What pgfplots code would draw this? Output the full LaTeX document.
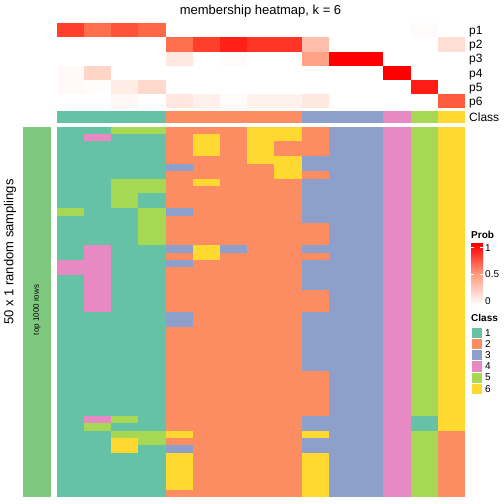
\documentclass[border=0pt]{standalone}
\usepackage{pgfplots}
\pgfplotsset{compat=1.18}
\usepackage{fontspec}
\setmainfont{Liberation Sans}
\definecolor{leftbar}{RGB}{127,201,127}
\definecolor{pmid}{RGB}{255,158,129}
\definecolor{c1}{RGB}{102,194,165}
\definecolor{c2}{RGB}{252,141,98}
\definecolor{c3}{RGB}{141,160,203}
\definecolor{c4}{RGB}{231,138,195}
\definecolor{c5}{RGB}{166,216,84}
\definecolor{c6}{RGB}{255,217,47}
\pgfdeclareplotmark{cellm}{\pgfpathrectangle{\pgfpoint{-13.66pt}{-3.74pt}}{\pgfpoint{27.32pt}{7.48pt}}\pgfusepathqfill}
\pgfdeclareplotmark{cellp}{\pgfpathrectangle{\pgfpoint{-13.66pt}{-7.12pt}}{\pgfpoint{27.32pt}{14.24pt}}\pgfusepathqfill}
\pgfplotsset{
 hm/.style={scale only axis, hide axis, enlargelimits=false, anchor=north west, y dir=reverse, xmin=-0.5, xmax=14.5},
}
\begin{document}
\begin{tikzpicture}
\path[use as bounding box] (0pt,0pt) rectangle (504pt,504pt);
% membership probabilities
\begin{axis}[hm, at={(56.7pt,480.7pt)}, width=408.3pt, height=85pt, ymin=-0.5, ymax=5.5,
 colormap={probmap}{rgb255=(255,255,255) rgb255=(255,207,191) rgb255=(255,158,129) rgb255=(255,104,70) rgb255=(255,0,0)},
 point meta min=0, point meta max=1]
\addplot[scatter, only marks, mark=cellp, scatter/use mapped color={draw=mapped color, fill=mapped color}, point meta=explicit] table[meta=c, row sep=\\]{
x y c\\
0 0 0.85\\1 0 0.72\\2 0 0.8\\3 0 0.75\\4 0 0\\5 0 0\\6 0 0\\7 0 0\\8 0 0\\9 0 0\\10 0 0\\11 0 0\\12 0 0\\13 0 0.02\\14 0 0\\
0 1 0\\1 1 0\\2 1 0\\3 1 0\\4 1 0.72\\5 1 0.85\\6 1 0.92\\7 1 0.87\\8 1 0.87\\9 1 0.33\\10 1 0\\11 1 0\\12 1 0\\13 1 0\\14 1 0.17\\
0 2 0\\1 2 0\\2 2 0\\3 2 0\\4 2 0.12\\5 2 0\\6 2 0.02\\7 2 0\\8 2 0\\9 2 0.48\\10 2 1\\11 2 1\\12 2 0\\13 2 0\\14 2 0\\
0 3 0.03\\1 3 0.22\\2 3 0\\3 3 0\\4 3 0\\5 3 0\\6 3 0\\7 3 0\\8 3 0\\9 3 0\\10 3 0\\11 3 0\\12 3 1\\13 3 0\\14 3 0\\
0 4 0.03\\1 4 0.01\\2 4 0.1\\3 4 0.2\\4 4 0\\5 4 0\\6 4 0\\7 4 0\\8 4 0\\9 4 0\\10 4 0\\11 4 0\\12 4 0\\13 4 0.93\\14 4 0\\
0 5 0\\1 5 0\\2 5 0.04\\3 5 0\\4 5 0.13\\5 5 0.08\\6 5 0.02\\7 5 0.07\\8 5 0.07\\9 5 0.12\\10 5 0\\11 5 0\\12 5 0\\13 5 0\\14 5 0.78\\
};
\end{axis}
% class row
\begin{axis}[hm, at={(56.7pt,393.3pt)}, width=408.3pt, height=12.6pt, ymin=-0.5, ymax=0.5]
\addplot[fill=c1, draw=none] coordinates {(-0.5,-0.5) (3.5,-0.5) (3.5,0.5) (-0.5,0.5)} --cycle;
\addplot[fill=c2, draw=none] coordinates {(3.5,-0.5) (8.5,-0.5) (8.5,0.5) (3.5,0.5)} --cycle;
\addplot[fill=c3, draw=none] coordinates {(8.5,-0.5) (11.5,-0.5) (11.5,0.5) (8.5,0.5)} --cycle;
\addplot[fill=c4, draw=none] coordinates {(11.5,-0.5) (12.5,-0.5) (12.5,0.5) (11.5,0.5)} --cycle;
\addplot[fill=c5, draw=none] coordinates {(12.5,-0.5) (13.5,-0.5) (13.5,0.5) (12.5,0.5)} --cycle;
\addplot[fill=c6, draw=none] coordinates {(13.5,-0.5) (14.5,-0.5) (14.5,0.5) (13.5,0.5)} --cycle;
\end{axis}
% main grid of classes
\begin{axis}[hm, at={(56.7pt,377.3pt)}, width=408.3pt, height=370.6pt, ymin=-0.5, ymax=49.5]
\addplot[scatter, only marks, mark=cellm, point meta=explicit symbolic,
 scatter/classes={1={c1},2={c2},3={c3},4={c4},5={c5},6={c6}}] table[meta=c, row sep=\\]{
x y c\\
0 0 1\\1 0 1\\2 0 5\\3 0 5\\4 0 2\\5 0 2\\6 0 2\\7 0 6\\8 0 6\\9 0 2\\10 0 3\\11 0 3\\12 0 4\\13 0 5\\14 0 6\\
0 1 1\\1 1 4\\2 1 1\\3 1 1\\4 1 2\\5 1 6\\6 1 2\\7 1 6\\8 1 6\\9 1 2\\10 1 3\\11 1 3\\12 1 4\\13 1 5\\14 1 6\\
0 2 1\\1 2 1\\2 2 1\\3 2 1\\4 2 2\\5 2 6\\6 2 2\\7 2 6\\8 2 2\\9 2 2\\10 2 3\\11 2 3\\12 2 4\\13 2 5\\14 2 6\\
0 3 1\\1 3 1\\2 3 1\\3 3 1\\4 3 2\\5 3 6\\6 3 2\\7 3 6\\8 3 2\\9 3 2\\10 3 3\\11 3 3\\12 3 4\\13 3 5\\14 3 6\\
0 4 1\\1 4 1\\2 4 1\\3 4 1\\4 4 2\\5 4 2\\6 4 2\\7 4 6\\8 4 6\\9 4 3\\10 4 3\\11 4 3\\12 4 4\\13 4 5\\14 4 6\\
0 5 1\\1 5 1\\2 5 1\\3 5 1\\4 5 3\\5 5 2\\6 5 2\\7 5 2\\8 5 6\\9 5 3\\10 5 3\\11 5 3\\12 5 4\\13 5 5\\14 5 6\\
0 6 1\\1 6 1\\2 6 1\\3 6 1\\4 6 2\\5 6 2\\6 6 2\\7 6 2\\8 6 6\\9 6 2\\10 6 3\\11 6 3\\12 6 4\\13 6 5\\14 6 6\\
0 7 1\\1 7 1\\2 7 5\\3 7 5\\4 7 2\\5 7 6\\6 7 2\\7 7 2\\8 7 2\\9 7 3\\10 7 3\\11 7 3\\12 7 4\\13 7 5\\14 7 6\\
0 8 1\\1 8 1\\2 8 5\\3 8 5\\4 8 2\\5 8 2\\6 8 2\\7 8 2\\8 8 2\\9 8 3\\10 8 3\\11 8 3\\12 8 4\\13 8 5\\14 8 6\\
0 9 1\\1 9 1\\2 9 5\\3 9 1\\4 9 2\\5 9 2\\6 9 2\\7 9 2\\8 9 2\\9 9 3\\10 9 3\\11 9 3\\12 9 4\\13 9 5\\14 9 6\\
0 10 1\\1 10 1\\2 10 5\\3 10 1\\4 10 2\\5 10 2\\6 10 2\\7 10 2\\8 10 2\\9 10 3\\10 10 3\\11 10 3\\12 10 4\\13 10 5\\14 10 6\\
0 11 5\\1 11 1\\2 11 1\\3 11 5\\4 11 3\\5 11 2\\6 11 2\\7 11 2\\8 11 2\\9 11 3\\10 11 3\\11 11 3\\12 11 4\\13 11 5\\14 11 6\\
0 12 1\\1 12 1\\2 12 1\\3 12 5\\4 12 2\\5 12 2\\6 12 2\\7 12 2\\8 12 2\\9 12 3\\10 12 3\\11 12 3\\12 12 4\\13 12 5\\14 12 6\\
0 13 1\\1 13 1\\2 13 1\\3 13 5\\4 13 2\\5 13 2\\6 13 2\\7 13 2\\8 13 2\\9 13 2\\10 13 3\\11 13 3\\12 13 4\\13 13 5\\14 13 6\\
0 14 1\\1 14 1\\2 14 1\\3 14 5\\4 14 2\\5 14 2\\6 14 2\\7 14 2\\8 14 2\\9 14 2\\10 14 3\\11 14 3\\12 14 4\\13 14 5\\14 14 6\\
0 15 1\\1 15 1\\2 15 1\\3 15 5\\4 15 2\\5 15 2\\6 15 2\\7 15 2\\8 15 2\\9 15 2\\10 15 3\\11 15 3\\12 15 4\\13 15 5\\14 15 6\\
0 16 1\\1 16 4\\2 16 1\\3 16 1\\4 16 3\\5 16 6\\6 16 3\\7 16 2\\8 16 2\\9 16 3\\10 16 3\\11 16 3\\12 16 4\\13 16 5\\14 16 6\\
0 17 1\\1 17 4\\2 17 1\\3 17 1\\4 17 2\\5 17 6\\6 17 2\\7 17 2\\8 17 2\\9 17 2\\10 17 3\\11 17 3\\12 17 4\\13 17 5\\14 17 6\\
0 18 4\\1 18 4\\2 18 1\\3 18 1\\4 18 3\\5 18 2\\6 18 2\\7 18 2\\8 18 2\\9 18 3\\10 18 3\\11 18 3\\12 18 4\\13 18 5\\14 18 6\\
0 19 4\\1 19 4\\2 19 1\\3 19 1\\4 19 2\\5 19 2\\6 19 2\\7 19 2\\8 19 2\\9 19 3\\10 19 3\\11 19 3\\12 19 4\\13 19 5\\14 19 6\\
0 20 1\\1 20 4\\2 20 1\\3 20 1\\4 20 2\\5 20 2\\6 20 2\\7 20 2\\8 20 2\\9 20 3\\10 20 3\\11 20 3\\12 20 4\\13 20 5\\14 20 6\\
0 21 1\\1 21 4\\2 21 1\\3 21 1\\4 21 2\\5 21 2\\6 21 2\\7 21 2\\8 21 2\\9 21 3\\10 21 3\\11 21 3\\12 21 4\\13 21 5\\14 21 6\\
0 22 1\\1 22 4\\2 22 1\\3 22 1\\4 22 2\\5 22 2\\6 22 2\\7 22 2\\8 22 2\\9 22 2\\10 22 3\\11 22 3\\12 22 4\\13 22 5\\14 22 6\\
0 23 1\\1 23 4\\2 23 1\\3 23 1\\4 23 2\\5 23 2\\6 23 2\\7 23 2\\8 23 2\\9 23 2\\10 23 3\\11 23 3\\12 23 4\\13 23 5\\14 23 6\\
0 24 1\\1 24 4\\2 24 1\\3 24 1\\4 24 2\\5 24 2\\6 24 2\\7 24 2\\8 24 2\\9 24 2\\10 24 3\\11 24 3\\12 24 4\\13 24 5\\14 24 6\\
0 25 1\\1 25 1\\2 25 1\\3 25 1\\4 25 3\\5 25 2\\6 25 2\\7 25 2\\8 25 2\\9 25 3\\10 25 3\\11 25 3\\12 25 4\\13 25 5\\14 25 6\\
0 26 1\\1 26 1\\2 26 1\\3 26 1\\4 26 3\\5 26 2\\6 26 2\\7 26 2\\8 26 2\\9 26 3\\10 26 3\\11 26 3\\12 26 4\\13 26 5\\14 26 6\\
0 27 1\\1 27 1\\2 27 1\\3 27 1\\4 27 2\\5 27 2\\6 27 2\\7 27 2\\8 27 2\\9 27 3\\10 27 3\\11 27 3\\12 27 4\\13 27 5\\14 27 6\\
0 28 1\\1 28 1\\2 28 1\\3 28 1\\4 28 2\\5 28 2\\6 28 2\\7 28 2\\8 28 2\\9 28 3\\10 28 3\\11 28 3\\12 28 4\\13 28 5\\14 28 6\\
0 29 1\\1 29 1\\2 29 1\\3 29 1\\4 29 2\\5 29 2\\6 29 2\\7 29 2\\8 29 2\\9 29 3\\10 29 3\\11 29 3\\12 29 4\\13 29 5\\14 29 6\\
0 30 1\\1 30 1\\2 30 1\\3 30 1\\4 30 2\\5 30 2\\6 30 2\\7 30 2\\8 30 2\\9 30 3\\10 30 3\\11 30 3\\12 30 4\\13 30 5\\14 30 6\\
0 31 1\\1 31 1\\2 31 1\\3 31 1\\4 31 2\\5 31 2\\6 31 2\\7 31 2\\8 31 2\\9 31 3\\10 31 3\\11 31 3\\12 31 4\\13 31 5\\14 31 6\\
0 32 1\\1 32 1\\2 32 1\\3 32 1\\4 32 2\\5 32 2\\6 32 2\\7 32 2\\8 32 2\\9 32 3\\10 32 3\\11 32 3\\12 32 4\\13 32 5\\14 32 6\\
0 33 1\\1 33 1\\2 33 1\\3 33 1\\4 33 2\\5 33 2\\6 33 2\\7 33 2\\8 33 2\\9 33 2\\10 33 3\\11 33 3\\12 33 4\\13 33 5\\14 33 6\\
0 34 1\\1 34 1\\2 34 1\\3 34 1\\4 34 2\\5 34 2\\6 34 2\\7 34 2\\8 34 2\\9 34 2\\10 34 3\\11 34 3\\12 34 4\\13 34 5\\14 34 6\\
0 35 1\\1 35 1\\2 35 1\\3 35 1\\4 35 2\\5 35 2\\6 35 2\\7 35 2\\8 35 2\\9 35 2\\10 35 3\\11 35 3\\12 35 4\\13 35 5\\14 35 6\\
0 36 1\\1 36 1\\2 36 1\\3 36 1\\4 36 2\\5 36 2\\6 36 2\\7 36 2\\8 36 2\\9 36 2\\10 36 3\\11 36 3\\12 36 4\\13 36 5\\14 36 6\\
0 37 1\\1 37 1\\2 37 1\\3 37 1\\4 37 2\\5 37 2\\6 37 2\\7 37 2\\8 37 2\\9 37 2\\10 37 3\\11 37 3\\12 37 4\\13 37 5\\14 37 6\\
0 38 1\\1 38 1\\2 38 1\\3 38 1\\4 38 2\\5 38 2\\6 38 2\\7 38 2\\8 38 2\\9 38 2\\10 38 3\\11 38 3\\12 38 4\\13 38 5\\14 38 6\\
0 39 1\\1 39 4\\2 39 5\\3 39 1\\4 39 2\\5 39 2\\6 39 2\\7 39 2\\8 39 2\\9 39 3\\10 39 3\\11 39 3\\12 39 4\\13 39 1\\14 39 6\\
0 40 1\\1 40 5\\2 40 1\\3 40 1\\4 40 2\\5 40 2\\6 40 2\\7 40 2\\8 40 2\\9 40 3\\10 40 3\\11 40 3\\12 40 4\\13 40 1\\14 40 6\\
0 41 1\\1 41 1\\2 41 5\\3 41 5\\4 41 6\\5 41 2\\6 41 2\\7 41 2\\8 41 2\\9 41 6\\10 41 3\\11 41 3\\12 41 4\\13 41 5\\14 41 2\\
0 42 1\\1 42 1\\2 42 6\\3 42 5\\4 42 2\\5 42 2\\6 42 2\\7 42 2\\8 42 2\\9 42 3\\10 42 3\\11 42 3\\12 42 4\\13 42 5\\14 42 2\\
0 43 1\\1 43 1\\2 43 6\\3 43 1\\4 43 3\\5 43 2\\6 43 2\\7 43 2\\8 43 2\\9 43 3\\10 43 3\\11 43 3\\12 43 4\\13 43 5\\14 43 2\\
0 44 1\\1 44 1\\2 44 1\\3 44 1\\4 44 6\\5 44 2\\6 44 2\\7 44 2\\8 44 2\\9 44 6\\10 44 3\\11 44 3\\12 44 4\\13 44 5\\14 44 2\\
0 45 1\\1 45 1\\2 45 1\\3 45 1\\4 45 6\\5 45 2\\6 45 2\\7 45 2\\8 45 2\\9 45 6\\10 45 3\\11 45 3\\12 45 4\\13 45 5\\14 45 2\\
0 46 1\\1 46 1\\2 46 1\\3 46 1\\4 46 6\\5 46 2\\6 46 2\\7 46 2\\8 46 2\\9 46 6\\10 46 3\\11 46 3\\12 46 4\\13 46 5\\14 46 2\\
0 47 1\\1 47 1\\2 47 1\\3 47 1\\4 47 6\\5 47 2\\6 47 2\\7 47 2\\8 47 2\\9 47 6\\10 47 3\\11 47 3\\12 47 4\\13 47 5\\14 47 2\\
0 48 1\\1 48 1\\2 48 1\\3 48 1\\4 48 6\\5 48 2\\6 48 2\\7 48 2\\8 48 2\\9 48 6\\10 48 3\\11 48 3\\12 48 4\\13 48 5\\14 48 2\\
0 49 1\\1 49 1\\2 49 1\\3 49 1\\4 49 2\\5 49 2\\6 49 2\\7 49 2\\8 49 2\\9 49 6\\10 49 3\\11 49 3\\12 49 4\\13 49 5\\14 49 2\\
};
\end{axis}
% left annotation
\fill[leftbar] (23pt,377.3pt) rectangle (51pt,6.7pt);
\node[rotate=90, font=\fontsize{8}{9}\selectfont] at (37pt,194pt) {top 1000 rows};
\node[rotate=90, font=\fontsize{13}{15}\selectfont] at (10pt,252pt) {50 x 1 random samplings};
% title and row labels
\node[anchor=base, inner sep=0pt, font=\fontsize{13}{15}\selectfont] at (260.5pt,489pt) {membership heatmap, k = 6};
\begin{scope}[every node/.style={anchor=base west, inner sep=0pt, font=\fontsize{12}{14}\selectfont}]
\node at (469pt,469.2pt) {p1};
\node at (469pt,455pt) {p2};
\node at (469pt,441pt) {p3};
\node at (469pt,426.9pt) {p4};
\node at (469pt,412.5pt) {p5};
\node at (469pt,398.4pt) {p6};
\node at (469pt,382.7pt) {Class};
\end{scope}
% Prob legend
\node[anchor=base west, inner sep=0pt, font=\fontsize{10}{12}\selectfont\bfseries] at (471pt,265.9pt) {Prob};
\shade[bottom color=white, top color=red, middle color=pmid] (471pt,199pt) rectangle (483pt,260pt);
\draw[white, line width=0.6pt] (471pt,256.3pt) -- (474pt,256.3pt) (480pt,256.3pt) -- (483pt,256.3pt)
  (471pt,230pt) -- (474pt,230pt) (480pt,230pt) -- (483pt,230pt);
\begin{scope}[every node/.style={anchor=base west, inner sep=0pt, font=\fontsize{10}{12}\selectfont}]
\node at (485pt,252.7pt) {1};
\node at (485pt,226.4pt) {0.5};
\node at (485pt,199.4pt) {0};
\end{scope}
% Class legend
\node[anchor=base west, inner sep=0pt, font=\fontsize{10}{12}\selectfont\bfseries] at (471pt,182.7pt) {Class};
\foreach \c [count=\i from 0] in {c1,c2,c3,c4,c5,c6} {
  \pgfmathsetmacro\yt{177-11.2*\i}
  \pgfmathsetmacro\yb{177-11.2*(\i+1)}
  \pgfmathsetmacro\ym{167.8-11.2*\i}
  \pgfmathtruncatemacro\lab{\i+1}
  \filldraw[fill=\c, draw=white, line width=0.4pt] (471pt,\yt pt) rectangle (482pt,\yb pt);
  \node[anchor=base west, inner sep=0pt, font=\fontsize{10}{12}\selectfont] at (485pt,\ym pt) {\lab};
}
\end{tikzpicture}
\end{document}
